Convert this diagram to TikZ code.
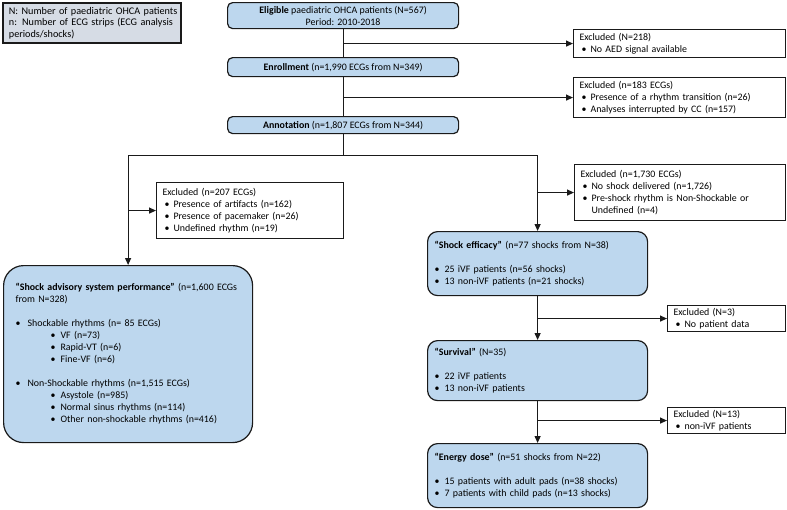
\documentclass[tikz,border=0pt]{standalone}
\usepackage{fontspec}
\setmainfont{Carlito}
\usetikzlibrary{arrows.meta}
\definecolor{boxblue}{HTML}{BDD7EE}
\definecolor{legfill}{HTML}{D6DCE5}
\definecolor{edge}{HTML}{1A1A1A}
\newcommand\bul{\makebox[11pt][l]{\hspace{2pt}\textbullet}}
\tikzset{
  basefont/.style={font=\fontsize{9.9}{12}\selectfont},
  flowbox/.style={basefont, draw=edge, line width=1.2pt, fill=boxblue, anchor=north west, inner ysep=0pt},
  topbox/.style={flowbox, rounded corners=5pt, align=center},
  bigbox/.style={flowbox, rounded corners=10pt, align=left, inner xsep=7pt},
  exbox/.style={basefont, draw=edge, line width=1.1pt, fill=white, anchor=north west, inner xsep=6pt, inner ysep=0pt, align=left},
  legbox/.style={font=\fontsize{10.2}{11.5}\selectfont, draw=edge, line width=1.8pt, fill=legfill, anchor=north west, inner xsep=6pt, inner ysep=0pt, align=left},
  conn/.style={draw=edge, line width=1.2pt},
  arr/.style={conn, -{Triangle[length=7pt,width=6pt]}}
}
\begin{document}
\begin{tikzpicture}[x=1pt,y=-1pt]
\useasboundingbox (0,0) rectangle (787,509);
% legend
\node[legbox, minimum width=178pt, minimum height=40pt, text width=166pt] (leg) at (2,2)
 {\mbox{N: Number of paediatric OHCA patients}\\\mbox{n: Number of ECG strips (ECG analysis}\\\mbox{periods/shocks)}};
% top chain
\node[topbox, minimum width=231pt, minimum height=26pt] (elig) at (227,2)
 {\textbf{Eligible} paediatric OHCA patients (N=567)\\Period: 2010-2018};
\node[topbox, minimum width=231pt, minimum height=19pt] (enr) at (227,57)
 {\textbf{Enrollment} (n=1,990 ECGs from N=349)};
\node[topbox, minimum width=231pt, minimum height=17pt] (ann) at (227,116)
 {\textbf{Annotation} (n=1,807 ECGs from N=344)};
% excluded boxes
\node[exbox, minimum width=212pt, minimum height=28pt, text width=200pt] (ex1) at (573,29)
 {Excluded (N=218)\\\bul No AED signal available};
\node[exbox, minimum width=212pt, minimum height=40pt, text width=200pt] (ex2) at (573,77)
 {Excluded (n=183 ECGs)\\\bul Presence of a rhythm transition (n=26)\\\bul Analyses interrupted by CC (n=157)};
\node[exbox, minimum width=187pt, minimum height=56pt, text width=175pt] (exL) at (156,182)
 {Excluded (n=207 ECGs)\\\bul Presence of artifacts (n=162)\\\bul Presence of pacemaker (n=26)\\\bul Undefined rhythm (n=19)};
\node[exbox, minimum width=211pt, minimum height=56pt, text width=199pt] (exR) at (574,164)
 {Excluded (n=1,730 ECGs)\\\bul No shock delivered (n=1,726)\\\bul Pre-shock rhythm is Non-Shockable or\\\hspace*{11pt}Undefined (n=4)};
\node[exbox, minimum width=118pt, minimum height=26pt, text width=106pt] (ex3) at (667,305)
 {Excluded (N=3)\\\bul No patient data};
\node[exbox, minimum width=118pt, minimum height=26pt, text width=106pt] (ex4) at (667,407)
 {Excluded (N=13)\\\bul non-iVF patients};
% outcome boxes
\node[flowbox, rounded corners=20pt, align=left, inner xsep=12pt, minimum width=249pt, minimum height=177pt, text width=225pt] (sa) at (3,265)
 {\mbox{\textbf{“Shock advisory system performance”} (n=1,600 ECGs}\\from N=328)\\[12pt]
  \makebox[12pt][l]{\textbullet}Shockable rhythms (n= 85 ECGs)\\
  \hspace*{35pt}\makebox[10pt][l]{\textbullet}VF (n=73)\\
  \hspace*{35pt}\makebox[10pt][l]{\textbullet}Rapid-VT (n=6)\\
  \hspace*{35pt}\makebox[10pt][l]{\textbullet}Fine-VF (n=6)\\[12pt]
  \makebox[12pt][l]{\textbullet}Non-Shockable rhythms (n=1,515 ECGs)\\
  \hspace*{35pt}\makebox[10pt][l]{\textbullet}Asystole (n=985)\\
  \hspace*{35pt}\makebox[10pt][l]{\textbullet}Normal sinus rhythms (n=114)\\
  \hspace*{35pt}\makebox[10pt][l]{\textbullet}Other non-shockable rhythms (n=416)};
\node[bigbox, minimum width=220pt, minimum height=64pt, text width=206pt] (se) at (427,231)
 {\textbf{“Shock efficacy”} (n=77 shocks from N=38)\\[12pt]
  \makebox[10pt][l]{\textbullet}25 iVF patients (n=56 shocks)\\
  \makebox[10pt][l]{\textbullet}13 non-iVF patients (n=21 shocks)};
\node[bigbox, minimum width=220pt, minimum height=60pt, text width=206pt] (sv) at (427,340)
 {\textbf{“Survival”} (N=35)\\[12pt]
  \makebox[10pt][l]{\textbullet}22 iVF patients\\
  \makebox[10pt][l]{\textbullet}13 non-iVF patients};
\node[bigbox, minimum width=220pt, minimum height=64pt, text width=206pt] (ed) at (427,443)
 {\textbf{“Energy dose”} (n=51 shocks from N=22)\\[12pt]
  \makebox[10pt][l]{\textbullet}15 patients with adult pads (n=38 shocks)\\
  \makebox[10pt][l]{\textbullet}7 patients with child pads (n=13 shocks)};
% connectors
\draw[conn] (elig.south) -- (enr.north);
\coordinate (b1) at (elig.south |- ex1.west);
\draw[arr] (b1) -- (ex1.west);
\draw[conn] (enr.south) -- (ann.north);
\coordinate (b2) at (enr.south |- ex2.west);
\draw[arr] (b2) -- (ex2.west);
\coordinate (split) at ([yshift=-21pt]ann.south);
\coordinate (sL) at (sa.north |- split);
\coordinate (sR) at (se.north |- split);
\draw[conn] (ann.south) -- (split);
\draw[conn] (sL) -- (sR);
\draw[arr] (sL) -- (sa.north);
\draw[arr] (sR) -- (se.north);
\coordinate (bL) at (sa.north |- exL.west);
\draw[arr] (bL) -- (exL.west);
\coordinate (bR) at (se.north |- exR.west);
\draw[arr] (bR) -- (exR.west);
\draw[arr] (se.south) -- (sv.north);
\coordinate (b3) at (se.south |- ex3.west);
\draw[arr] (b3) -- (ex3.west);
\draw[arr] (sv.south) -- (ed.north);
\coordinate (b4) at (sv.south |- ex4.west);
\draw[arr] (b4) -- (ex4.west);
\end{tikzpicture}
\end{document}
